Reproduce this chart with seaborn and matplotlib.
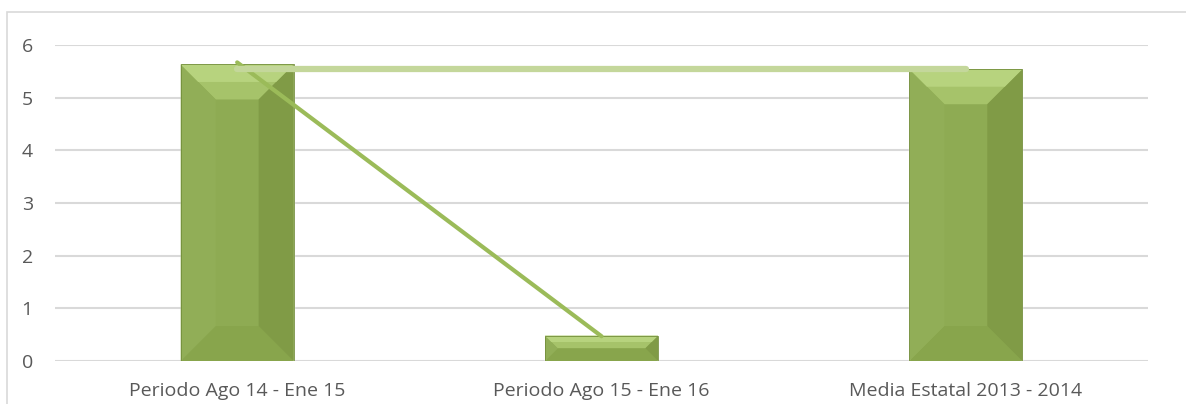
# bar chart with two line series, excel-like bevel bars

import seaborn as sns
import matplotlib.pyplot as plt
import matplotlib.patches as mpatches
import numpy as np

# data
categories = ["Periodo Ago 14 - Ene 15", "Periodo Ago 15 - Ene 16", "Media Estatal 2013 - 2014"]
bar_values = [5.63, 0.48, 5.54]
trend_values = [5.67, 0.47, np.nan]
media_values = [5.55, 5.55, 5.55]
y_ticks = [0, 1, 2, 3, 4, 5, 6]

sns.set_theme(style="white")
plt.rcParams['font.family'] = ['Open Sans', 'DejaVu Sans']

fig = plt.figure(figsize=(11.86, 4.04), dpi=100)
ax = fig.add_axes([55 / 1186, 1 - 361 / 404, (1148 - 55) / 1186, (361 - 45) / 404])

# chart border
fig.patches.append(mpatches.Rectangle((7 / 1186, -0.01), 1.1, 1 - 12 / 404 + 0.01,
                                      transform=fig.transFigure, fill=False,
                                      edgecolor="#d9d9d9", lw=1.2, zorder=0))

sns.barplot(x=categories, y=bar_values, color="#8eab53", width=0.31,
            saturation=1, ax=ax, zorder=3)

ax.set_ylim(0, 6)
ax.set_xlim(-0.5, 2.5)
ax.set_yticks(y_ticks)
ax.yaxis.grid(True, color="#d9d9d9", lw=1.5)
ax.set_axisbelow(True)
for s in ax.spines.values():
    s.set_visible(False)
ax.tick_params(axis="both", length=0, labelsize=14, colors="#595959")
ax.tick_params(axis="y", pad=16)
ax.tick_params(axis="x", pad=15)
ax.set_xlabel("")
ax.set_ylabel("")

# bevel effect on the bars
fig.canvas.draw()
inv = ax.transData.inverted()
for p in list(ax.patches):
    x0, y0 = p.get_x(), p.get_y()
    x1, y1 = x0 + p.get_width(), y0 + p.get_height()
    (px0, py0) = ax.transData.transform((x0, y0))
    (px1, py1) = ax.transData.transform((x1, y1))
    d = min(35, (py1 - py0) / 2, (px1 - px0) / 2)
    ix0, iy0 = inv.transform((px0 + d, py0 + d))
    ix1, iy1 = inv.transform((px1 - d, py1 - d))
    polys = [
        ([(x0, y1), (x1, y1), (ix1, iy1), (ix0, iy1)], "#a6c36a"),
        ([(x0, y0), (x1, y0), (ix1, iy0), (ix0, iy0)], "#88a54c"),
        ([(x0, y0), (x0, y1), (ix0, iy1), (ix0, iy0)], "#91ae57"),
        ([(x1, y0), (x1, y1), (ix1, iy1), (ix1, iy0)], "#809b46"),
    ]
    for pts, c in polys:
        ax.add_patch(mpatches.Polygon(pts, closed=True, facecolor=c,
                                      edgecolor="none", zorder=3.5))
    # lighter strip along the top edge
    ax.add_patch(mpatches.Polygon([(x0, y1), (x1, y1), inv.transform((px1 - d / 2, py1 - d / 2)),
                                   inv.transform((px0 + d / 2, py1 - d / 2))],
                                  closed=True, facecolor="#b7d37e", edgecolor="none", zorder=3.55))
    ax.add_patch(mpatches.Rectangle((x0, y0), x1 - x0, y1 - y0, fill=False,
                                    edgecolor="#738e3b", lw=0.6, zorder=3.6))

# line series
sns.lineplot(x=[0, 1, 2], y=trend_values, color="#9bbb59", lw=3, ax=ax, zorder=4)
sns.lineplot(x=[0, 1, 2], y=media_values, color="#c4d79b", lw=4.5, ax=ax, zorder=5)

plt.savefig("out.png", dpi=100)
